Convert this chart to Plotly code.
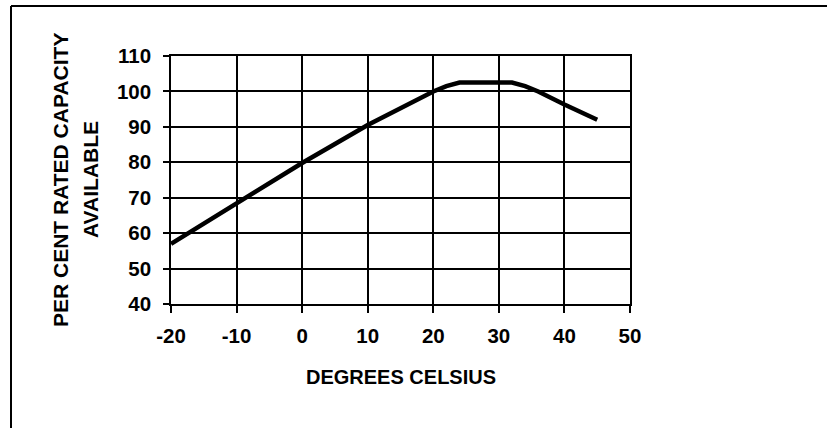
import plotly.graph_objects as go

# Data
temp_c = [-20, -10, 0, 10, 20, 22, 24, 28, 32, 34, 36, 40, 45]
capacity_pct = [57, 68.5, 79.8, 90.5, 100, 101.5, 102.5, 102.5, 102.5, 101.5, 100, 96.3, 92]

x_ticks = [-20, -10, 0, 10, 20, 30, 40, 50]
y_ticks = [40, 50, 60, 70, 80, 90, 100, 110]

W, H = 827, 428
L, R, T, B = 171, 197, 56, 124
pw, ph = W - L - R, H - T - B

def px_x(p):
    return (p - L) / pw

def px_y(p):
    return (H - B - p) / ph

FONT = "Liberation Sans, Arial, sans-serif"

fig = go.Figure()
fig.add_trace(go.Scatter(
    x=temp_c, y=capacity_pct, mode="lines",
    line=dict(color="black", width=4.5),
    hoverinfo="skip", showlegend=False,
))

axis_common = dict(
    showgrid=True, gridcolor="black", gridwidth=1.5,
    showline=True, linecolor="black", linewidth=1.5, mirror=True,
    ticks="outside", tickcolor="black", tickwidth=1.5,
    zeroline=False, fixedrange=True,
    tickfont=dict(family=FONT, size=20.5, color="black", weight="bold"),
)

fig.update_xaxes(range=[-20, 50], tickvals=x_ticks, ticktext=[str(v) for v in x_ticks],
                 ticklen=7, ticklabelstandoff=6, **axis_common)
fig.update_yaxes(range=[40, 110], tickvals=y_ticks, ticktext=[str(v) for v in y_ticks],
                 ticklen=6, ticklabelstandoff=8, **axis_common)

title_font = dict(family=FONT, size=21, color="black", weight="bold")
fig.add_annotation(
    text="PER CENT RATED CAPACITY", textangle=-90,
    xref="paper", yref="paper", x=px_x(60), y=px_y(180),
    xanchor="center", yanchor="middle", showarrow=False, font=title_font,
)
fig.add_annotation(
    text="AVAILABLE", textangle=-90,
    xref="paper", yref="paper", x=px_x(90), y=px_y(180),
    xanchor="center", yanchor="middle", showarrow=False, font=title_font,
)
fig.add_annotation(
    text="DEGREES CELSIUS",
    xref="paper", yref="paper", x=px_x(401), y=px_y(377),
    xanchor="center", yanchor="middle", showarrow=False,
    font=dict(family=FONT, size=20, color="black", weight="bold"),
)

# Frame lines (top and left) of the picture
fig.add_shape(type="line", xref="paper", yref="paper",
              x0=px_x(11), y0=px_y(6), x1=px_x(830), y1=px_y(6),
              line=dict(color="black", width=2))
fig.add_shape(type="line", xref="paper", yref="paper",
              x0=px_x(11), y0=px_y(6), x1=px_x(11), y1=px_y(432),
              line=dict(color="black", width=2))

fig.update_layout(
    width=W, height=H, autosize=False,
    margin=dict(l=L, r=R, t=T, b=B, pad=0),
    paper_bgcolor="white", plot_bgcolor="white",
)

fig.write_html(
    "out.html",
    config={"displayModeBar": False},
    post_script="document.body.style.margin='0';document.body.style.overflow='hidden';",
)
